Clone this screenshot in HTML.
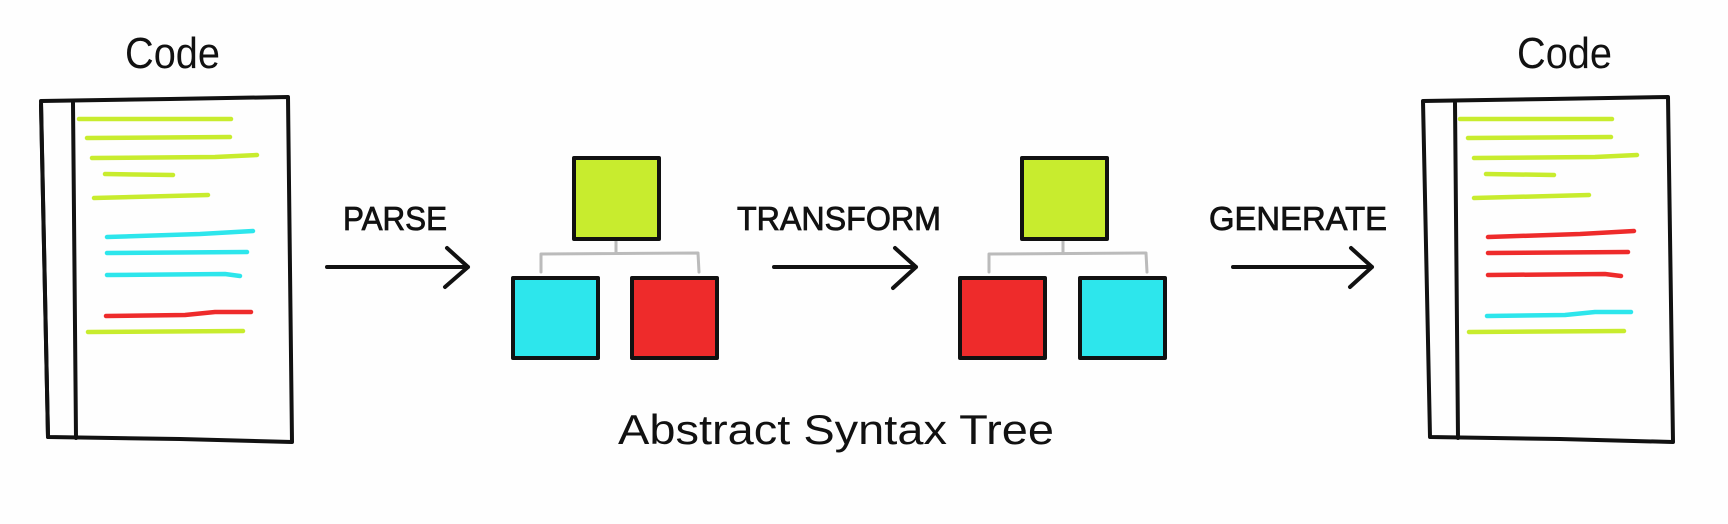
<!DOCTYPE html>
<html><head><meta charset="utf-8"><style>
html,body{margin:0;padding:0;background:#fff;}
svg{display:block}
text{font-family:"Liberation Sans",sans-serif;fill:#111;}
</style></head><body>
<svg width="1728" height="524" viewBox="0 0 1728 524" xmlns="http://www.w3.org/2000/svg">
<rect width="1728" height="524" fill="#fefefe"/>
<g fill="none" stroke-linecap="round" stroke-linejoin="round">
<!-- left doc -->
<path d="M41 101 L170 99 L288 97 L292 442 L180 439 L48 437 Z" stroke="#111" stroke-width="4"/>
<path d="M41 105 L48 437" stroke="#111" stroke-width="4"/>
<path d="M73 103 L76 438" stroke="#111" stroke-width="4"/>
<g stroke-width="4.5">
<path d="M79 119 L231 119" stroke="#c8ec2e"/>
<path d="M87 138 L230 137" stroke="#c8ec2e"/>
<path d="M92 158 L215 157 L257 155" stroke="#c8ec2e"/>
<path d="M105 174 L173 175" stroke="#c8ec2e"/>
<path d="M94 198 L208 195" stroke="#c8ec2e"/>
<path d="M107 237 L200 234 L253 231" stroke="#2de6ec"/>
<path d="M107 253 L247 252" stroke="#2de6ec"/>
<path d="M107 275 L225 274 L240 276" stroke="#2de6ec"/>
<path d="M106 316 L185 315 L215 312 L251 312" stroke="#ee2b2b"/>
<path d="M88 332 L243 331" stroke="#c8ec2e"/>
</g>
<!-- right doc -->
<path d="M1423 101 L1550 99 L1668 97 L1673 442 L1560 439 L1430 437 Z" stroke="#111" stroke-width="4"/>
<path d="M1455 103 L1458 438" stroke="#111" stroke-width="4"/>
<g stroke-width="4.5">
<path d="M1460 119 L1612 119" stroke="#c8ec2e"/>
<path d="M1468 138 L1611 137" stroke="#c8ec2e"/>
<path d="M1474 158 L1595 157 L1637 155" stroke="#c8ec2e"/>
<path d="M1486 174 L1554 175" stroke="#c8ec2e"/>
<path d="M1474 198 L1589 195" stroke="#c8ec2e"/>
<path d="M1488 237 L1580 234 L1634 231" stroke="#ee2b2b"/>
<path d="M1488 253 L1628 252" stroke="#ee2b2b"/>
<path d="M1488 275 L1605 274 L1621 276" stroke="#ee2b2b"/>
<path d="M1487 316 L1565 315 L1595 312 L1631 312" stroke="#2de6ec"/>
<path d="M1469 332 L1624 331" stroke="#c8ec2e"/>
</g>
<!-- arrows -->
<g stroke="#111" stroke-width="4">
<path d="M327 267 L468 267 M447 248 L468 267 L445 287"/>
<path d="M774 267 L916 267 M895 248 L916 267 L893 288"/>
<path d="M1233 267 L1372 267 M1351 248 L1372 267 L1350 287"/>
</g>
<!-- connectors -->
<g stroke="#bbb" stroke-width="3">
<path d="M616 240 L616 253 M541 272 L541 254 L698 253 L699 272"/>
<path d="M1063 240 L1063 253 M989 272 L989 254 L1146 253 L1147 272"/>
</g>
<!-- boxes -->
<g stroke="#111" stroke-width="4">
<rect x="574" y="158" width="85" height="81" fill="#c8ec2e"/>
<rect x="513" y="278" width="85" height="80" fill="#2de6ec"/>
<rect x="632" y="278" width="85" height="80" fill="#ee2b2b"/>
<rect x="1022" y="158" width="85" height="81" fill="#c8ec2e"/>
<rect x="960" y="278" width="85" height="80" fill="#ee2b2b"/>
<rect x="1080" y="278" width="85" height="80" fill="#2de6ec"/>
</g>
</g>
<!-- text -->
<text x="125" y="68" font-size="44" fill="#222" textLength="95" lengthAdjust="spacingAndGlyphs">Code</text>
<text x="1517" y="68" font-size="44" fill="#222" textLength="95" lengthAdjust="spacingAndGlyphs">Code</text>
<text x="343" y="230" font-size="33" stroke="#111" stroke-width="0.8" textLength="104" lengthAdjust="spacingAndGlyphs">PARSE</text>
<text x="737" y="230" font-size="33" stroke="#111" stroke-width="0.8" textLength="204" lengthAdjust="spacingAndGlyphs">TRANSFORM</text>
<text x="1209" y="230" font-size="33" stroke="#111" stroke-width="0.8" textLength="178" lengthAdjust="spacingAndGlyphs">GENERATE</text>
<text x="618" y="444" font-size="42" fill="#222" textLength="436" lengthAdjust="spacingAndGlyphs">Abstract Syntax Tree</text>
</svg>
</body></html>
